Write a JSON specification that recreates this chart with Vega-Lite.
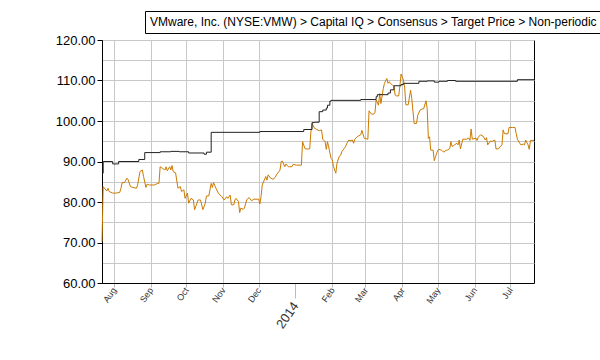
{
  "$schema": "https://vega.github.io/schema/vega-lite/v6.json",
  "width": 432,
  "height": 243,
  "autosize": {"type": "none"},
  "padding": {"left": 102, "top": 40, "right": 66, "bottom": 77},
  "background": "white",
  "config": {"view": {"stroke": "black", "strokeWidth": 1}, "font": "Liberation Sans"},
  "datasets": {
    "price": [
      {"d":"2013-07-22","v":70.2},{"d":"2013-07-23","v":83.8},{"d":"2013-07-26","v":82.7},{"d":"2013-07-27","v":83.4},{"d":"2013-07-28","v":82.6},{"d":"2013-07-31","v":82.2},
      {"d":"2013-08-03","v":82.2},{"d":"2013-08-06","v":82.4},{"d":"2013-08-07","v":83.4},{"d":"2013-08-08","v":84.8},{"d":"2013-08-10","v":84.8},{"d":"2013-08-12","v":85.9},{"d":"2013-08-13","v":85.5},{"d":"2013-08-15","v":83.8},{"d":"2013-08-17","v":83.6},{"d":"2013-08-20","v":83.4},{"d":"2013-08-21","v":84.2},{"d":"2013-08-23","v":87.5},{"d":"2013-08-25","v":87.9},{"d":"2013-08-26","v":86.3},{"d":"2013-08-28","v":83.6},{"d":"2013-08-29","v":84.4},{"d":"2013-08-31","v":84.2},
      {"d":"2013-09-04","v":84.2},{"d":"2013-09-07","v":84.6},{"d":"2013-09-08","v":84.6},{"d":"2013-09-09","v":88.7},{"d":"2013-09-11","v":88.3},{"d":"2013-09-13","v":87.9},{"d":"2013-09-14","v":88.7},{"d":"2013-09-15","v":87.7},{"d":"2013-09-17","v":88.7},{"d":"2013-09-18","v":87.9},{"d":"2013-09-19","v":89.0},{"d":"2013-09-20","v":87.5},{"d":"2013-09-22","v":87.2},{"d":"2013-09-24","v":83.4},{"d":"2013-09-26","v":83.8},{"d":"2013-09-27","v":82.6},{"d":"2013-09-29","v":83.0},{"d":"2013-09-30","v":80.9},
      {"d":"2013-10-02","v":82.2},{"d":"2013-10-03","v":79.7},{"d":"2013-10-05","v":80.9},{"d":"2013-10-07","v":80.5},{"d":"2013-10-08","v":78.1},{"d":"2013-10-11","v":80.5},{"d":"2013-10-13","v":80.5},{"d":"2013-10-15","v":78.1},{"d":"2013-10-17","v":79.7},{"d":"2013-10-18","v":81.5},{"d":"2013-10-20","v":81.5},{"d":"2013-10-22","v":84.6},{"d":"2013-10-23","v":83.6},{"d":"2013-10-24","v":84.8},{"d":"2013-10-26","v":83.4},{"d":"2013-10-28","v":82.2},{"d":"2013-10-31","v":81.3},
      {"d":"2013-11-02","v":80.5},{"d":"2013-11-04","v":81.3},{"d":"2013-11-05","v":80.9},{"d":"2013-11-07","v":81.7},{"d":"2013-11-08","v":79.3},{"d":"2013-11-10","v":79.3},{"d":"2013-11-11","v":80.5},{"d":"2013-11-12","v":80.9},{"d":"2013-11-14","v":80.1},{"d":"2013-11-15","v":77.4},{"d":"2013-11-16","v":78.5},{"d":"2013-11-18","v":78.2},{"d":"2013-11-19","v":78.5},{"d":"2013-11-21","v":80.6},{"d":"2013-11-23","v":81.1},{"d":"2013-11-25","v":80.3},{"d":"2013-11-27","v":80.7},
      {"d":"2013-12-01","v":80.7},{"d":"2013-12-02","v":79.5},{"d":"2013-12-03","v":81.3},{"d":"2013-12-04","v":84.2},{"d":"2013-12-07","v":86.3},{"d":"2013-12-08","v":85.4},{"d":"2013-12-09","v":86.7},{"d":"2013-12-11","v":85.9},{"d":"2013-12-13","v":85.6},{"d":"2013-12-15","v":86.1},{"d":"2013-12-16","v":86.7},{"d":"2013-12-18","v":87.5},{"d":"2013-12-19","v":87.9},{"d":"2013-12-20","v":90.0},{"d":"2013-12-21","v":90.1},{"d":"2013-12-23","v":88.7},{"d":"2013-12-24","v":89.4},{"d":"2013-12-26","v":88.7},{"d":"2013-12-29","v":88.7},{"d":"2013-12-30","v":89.3},
      {"d":"2014-01-02","v":89.1},{"d":"2014-01-05","v":89.1},{"d":"2014-01-06","v":89.1},{"d":"2014-01-07","v":94.9},{"d":"2014-01-09","v":93.2},{"d":"2014-01-10","v":93.1},{"d":"2014-01-12","v":93.1},{"d":"2014-01-13","v":93.1},{"d":"2014-01-14","v":97.3},{"d":"2014-01-15","v":99.4},{"d":"2014-01-17","v":98.2},{"d":"2014-01-19","v":97.9},{"d":"2014-01-21","v":97.6},{"d":"2014-01-23","v":97.8},{"d":"2014-01-24","v":95.5},{"d":"2014-01-26","v":94.9},{"d":"2014-01-27","v":93.0},{"d":"2014-01-28","v":94.9},{"d":"2014-01-29","v":93.6},{"d":"2014-01-31","v":90.8},
      {"d":"2014-02-01","v":90.4},{"d":"2014-02-02","v":88.8},{"d":"2014-02-04","v":87.1},{"d":"2014-02-05","v":89.6},{"d":"2014-02-07","v":91.3},{"d":"2014-02-08","v":91.5},{"d":"2014-02-09","v":92.4},{"d":"2014-02-11","v":93.2},{"d":"2014-02-12","v":93.6},{"d":"2014-02-14","v":94.9},{"d":"2014-02-15","v":95.3},{"d":"2014-02-16","v":95.1},{"d":"2014-02-18","v":95.3},{"d":"2014-02-19","v":94.5},{"d":"2014-02-20","v":95.5},{"d":"2014-02-22","v":96.1},{"d":"2014-02-23","v":96.3},{"d":"2014-02-25","v":96.6},{"d":"2014-02-26","v":97.7},{"d":"2014-02-28","v":95.7},
      {"d":"2014-03-01","v":95.7},{"d":"2014-03-03","v":95.5},{"d":"2014-03-04","v":102.5},{"d":"2014-03-06","v":101.7},{"d":"2014-03-08","v":101.7},{"d":"2014-03-09","v":102.1},{"d":"2014-03-10","v":105.2},{"d":"2014-03-12","v":103.9},{"d":"2014-03-13","v":106.8},{"d":"2014-03-14","v":104.3},{"d":"2014-03-16","v":108.0},{"d":"2014-03-17","v":109.3},{"d":"2014-03-19","v":110.5},{"d":"2014-03-20","v":109.3},{"d":"2014-03-21","v":109.7},{"d":"2014-03-22","v":109.3},{"d":"2014-03-24","v":108.8},{"d":"2014-03-25","v":108.6},{"d":"2014-03-26","v":106.4},{"d":"2014-03-27","v":106.2},{"d":"2014-03-29","v":106.2},{"d":"2014-03-30","v":108.6},{"d":"2014-03-31","v":111.6},
      {"d":"2014-04-02","v":110.1},{"d":"2014-04-03","v":108.4},{"d":"2014-04-04","v":104.0},{"d":"2014-04-06","v":104.0},{"d":"2014-04-08","v":107.6},{"d":"2014-04-09","v":105.6},{"d":"2014-04-11","v":99.4},{"d":"2014-04-13","v":99.4},{"d":"2014-04-14","v":101.4},{"d":"2014-04-16","v":102.7},{"d":"2014-04-18","v":103.0},{"d":"2014-04-19","v":103.0},{"d":"2014-04-21","v":105.0},{"d":"2014-04-22","v":103.1},{"d":"2014-04-23","v":95.7},{"d":"2014-04-24","v":96.1},{"d":"2014-04-25","v":92.8},{"d":"2014-04-27","v":92.8},{"d":"2014-04-28","v":90.2},{"d":"2014-04-29","v":91.2},
      {"d":"2014-05-01","v":92.8},{"d":"2014-05-02","v":93.0},{"d":"2014-05-04","v":92.8},{"d":"2014-05-05","v":92.6},{"d":"2014-05-06","v":92.3},{"d":"2014-05-08","v":92.8},{"d":"2014-05-09","v":92.8},{"d":"2014-05-11","v":93.2},{"d":"2014-05-12","v":94.9},{"d":"2014-05-13","v":93.7},{"d":"2014-05-14","v":93.9},{"d":"2014-05-15","v":94.1},{"d":"2014-05-17","v":94.5},{"d":"2014-05-18","v":94.1},{"d":"2014-05-19","v":95.3},{"d":"2014-05-20","v":93.1},{"d":"2014-05-22","v":95.5},{"d":"2014-05-25","v":95.5},{"d":"2014-05-27","v":95.8},{"d":"2014-05-28","v":95.2},{"d":"2014-05-29","v":98.0},{"d":"2014-05-30","v":95.5},
      {"d":"2014-06-02","v":95.8},{"d":"2014-06-03","v":95.2},{"d":"2014-06-04","v":96.0},{"d":"2014-06-06","v":96.6},{"d":"2014-06-08","v":96.3},{"d":"2014-06-10","v":95.3},{"d":"2014-06-11","v":95.9},{"d":"2014-06-12","v":94.1},{"d":"2014-06-14","v":95.0},{"d":"2014-06-16","v":95.0},{"d":"2014-06-18","v":95.3},{"d":"2014-06-19","v":93.1},{"d":"2014-06-21","v":93.1},{"d":"2014-06-23","v":93.8},{"d":"2014-06-24","v":94.1},{"d":"2014-06-25","v":97.8},{"d":"2014-06-26","v":96.9},{"d":"2014-06-29","v":96.8},{"d":"2014-06-30","v":98.4},
      {"d":"2014-07-03","v":98.4},{"d":"2014-07-05","v":98.4},{"d":"2014-07-06","v":96.9},{"d":"2014-07-07","v":95.5},{"d":"2014-07-09","v":94.5},{"d":"2014-07-10","v":94.1},{"d":"2014-07-12","v":94.3},{"d":"2014-07-13","v":94.1},{"d":"2014-07-14","v":95.3},{"d":"2014-07-16","v":94.1},{"d":"2014-07-17","v":93.0},{"d":"2014-07-18","v":95.2},{"d":"2014-07-21","v":95.2}
    ],
    "target": [
      {"d":"2013-07-22","v":87.1},{"d":"2013-07-23","v":90.0},{"d":"2013-07-31","v":89.4},{"d":"2013-08-05","v":90.0},{"d":"2013-08-22","v":90.5},{"d":"2013-08-27","v":92.2},{"d":"2013-09-09","v":92.4},{"d":"2013-09-18","v":92.5},{"d":"2013-09-25","v":92.4},{"d":"2013-10-03","v":92.1},{"d":"2013-10-16","v":91.8},{"d":"2013-10-18","v":92.3},{"d":"2013-10-22","v":97.2},{"d":"2013-12-02","v":97.4},{"d":"2014-01-08","v":97.9},{"d":"2014-01-15","v":99.6},{"d":"2014-01-17","v":99.7},{"d":"2014-01-21","v":102.3},{"d":"2014-01-24","v":102.7},{"d":"2014-01-27","v":103.2},{"d":"2014-01-28","v":103.9},{"d":"2014-01-30","v":104.9},{"d":"2014-01-31","v":105.1},{"d":"2014-02-25","v":105.3},{"d":"2014-03-10","v":106.0},{"d":"2014-03-11","v":106.5},{"d":"2014-03-20","v":106.9},{"d":"2014-03-22","v":107.7},{"d":"2014-03-25","v":108.7},{"d":"2014-03-31","v":109.0},{"d":"2014-04-02","v":109.3},{"d":"2014-04-15","v":109.8},{"d":"2014-04-22","v":109.9},{"d":"2014-04-28","v":109.6},{"d":"2014-05-02","v":109.8},{"d":"2014-05-09","v":110.0},{"d":"2014-05-16","v":109.8},{"d":"2014-07-07","v":110.2},{"d":"2014-07-21","v":110.2}
    ]
  },
  "encoding": {
    "x": {
      "field": "d", "type": "temporal",
      "scale": {"type": "utc", "domain": [{"year": 2013, "month": 7, "date": 22, "utc": true}, {"year": 2014, "month": 7, "date": 21, "utc": true}]},
      "axis": {
        "title": null,
        "values": [
          {"year": 2013, "month": 8, "date": 1, "utc": true},{"year": 2013, "month": 9, "date": 1, "utc": true},{"year": 2013, "month": 10, "date": 1, "utc": true},{"year": 2013, "month": 11, "date": 1, "utc": true},{"year": 2013, "month": 12, "date": 1, "utc": true},{"year": 2014, "month": 1, "date": 1, "utc": true},{"year": 2014, "month": 2, "date": 1, "utc": true},{"year": 2014, "month": 3, "date": 1, "utc": true},{"year": 2014, "month": 4, "date": 1, "utc": true},{"year": 2014, "month": 5, "date": 1, "utc": true},{"year": 2014, "month": 6, "date": 1, "utc": true},{"year": 2014, "month": 7, "date": 1, "utc": true}
        ],
        "labelExpr": "utcmonth(datum.value) == 0 ? utcFormat(datum.value, '%Y') : utcFormat(datum.value, '%b')",
        "labelAngle": -55,
        "labelFontSize": {"condition": {"test": "utcmonth(datum.value) == 0", "value": 13}, "value": 9},
        "labelPadding": {"condition": {"test": "utcmonth(datum.value) == 0", "value": 5}, "value": 1},
        "labelColor": "#333333",
        "labelOverlap": false,
        "labelFlush": false,
        "tickSize": {"condition": {"test": "utcmonth(datum.value) == 0", "value": 15}, "value": 4},
        "tickColor": "#bbbbbb",
        "domainColor": "black",
        "gridColor": "#c8c8c8",
        "gridOpacity": {"condition": {"test": "utcmonth(datum.value) == 0", "value": 0}, "value": 1}
      }
    },
    "y": {
      "field": "v", "type": "quantitative",
      "scale": {"domain": [60, 120], "nice": false, "zero": false},
      "axis": {
        "title": null,
        "values": [60, 65, 70, 75, 80, 85, 90, 95, 100, 105, 110, 115, 120],
        "labelExpr": "datum.value % 10 == 0 ? format(datum.value, '.2f') : ''",
        "labelFontSize": 13,
        "labelColor": "black",
        "labelPadding": 2,
        "tickSize": {"condition": {"test": "datum.value % 10 == 0", "value": 5}, "value": 0},
        "tickColor": "black",
        "domainColor": "black",
        "gridColor": "#c8c8c8"
      }
    }
  },
  "layer": [
    {
      "data": {"name": "price"},
      "mark": {"type": "line", "color": "#cc7a00", "strokeWidth": 1}
    },
    {
      "data": {"name": "target"},
      "mark": {"type": "line", "interpolate": "step-after", "strokeWidth": 1},
      "encoding": {
        "color": {
          "datum": "VMware, Inc. (NYSE:VMW) > Capital IQ > Consensus > Target Price > Non-periodic",
          "type": "nominal",
          "scale": {"range": ["#222222"]},
          "legend": {
            "title": null,
            "orient": "none",
            "legendX": 43,
            "legendY": -29,
            "strokeColor": "black",
            "fillColor": "white",
            "padding": 5,
            "labelFontSize": 12,
            "labelColor": "black",
            "labelLimit": 1000,
            "labelOffset": -12,
            "symbolSize": 0,
            "symbolOpacity": 0,
            "symbolStrokeWidth": 0
          }
        }
      }
    }
  ]
}
